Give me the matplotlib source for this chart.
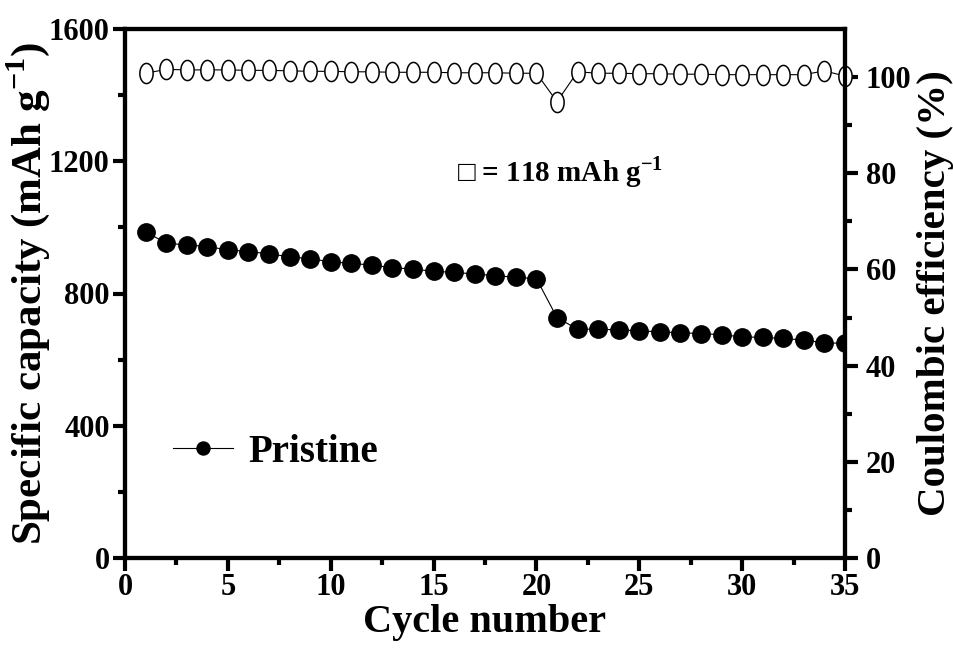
import numpy as np
import matplotlib
matplotlib.use('Agg')
import matplotlib.pyplot as plt
from matplotlib.path import Path

# data
cycles = np.arange(1, 36)
capacity = [987, 952, 947, 942, 932, 927, 920, 911, 905, 896,
            891, 886, 878, 874, 867, 864, 859, 854, 849, 845,
            727, 692, 692, 690, 687, 684, 681, 679, 675, 669,
            667, 664, 659, 651, 649]
efficiency = [100.8, 101.6, 101.5, 101.5, 101.5, 101.4, 101.4, 101.3, 101.2, 101.2,
              101.1, 101.1, 101.0, 101.0, 101.0, 100.9, 100.9, 100.9, 100.8, 100.8,
              94.9, 101.1, 100.8, 100.8, 100.7, 100.7, 100.6, 100.6, 100.5, 100.5,
              100.5, 100.5, 100.5, 101.3, 100.2]
series_label = 'Pristine'
note_text = '\u25a1 = 118 mAh g$^{\\mathbf{-1}}$'

plt.rcParams['font.family'] = ['Liberation Serif', 'DejaVu Sans']
plt.rcParams['font.weight'] = 'bold'
plt.rcParams['axes.labelweight'] = 'bold'
plt.rcParams['mathtext.fontset'] = 'custom'
plt.rcParams['mathtext.rm'] = 'Liberation Serif:bold'
plt.rcParams['mathtext.bf'] = 'Liberation Serif:bold'

# tall ellipse for the open markers (picture is a bit squeezed sideways)
t = np.linspace(0, 2*np.pi, 60)
ellipse = Path(np.column_stack([0.66*np.cos(t), np.sin(t)]))

fig = plt.figure(figsize=(9.54, 6.48), dpi=100)
fig.subplots_adjust(left=125/954, right=845/954, bottom=1-558/648, top=1-29/648)
ax = fig.add_subplot(111)
ax2 = ax.twinx()

ax.plot(cycles, capacity, '-', color='black', lw=0.8, marker='o', ms=12.5,
        mfc='black', mec='black', label=series_label)
ax2.plot(cycles, efficiency, '-', color='black', lw=0.8, marker=ellipse, ms=14.5,
         mfc='white', mec='black', mew=1.1, clip_on=False)

ax.set_xlim(0, 35)
ax.set_ylim(0, 1600)
ax2.set_ylim(0, 110)
ax.set_xticks(np.arange(0, 36, 5))
ax.set_xticks(np.arange(2.5, 35, 5), minor=True)
ax.set_yticks(np.arange(0, 1601, 400))
ax.set_yticks(np.arange(200, 1600, 400), minor=True)
ax2.set_yticks(np.arange(0, 101, 20))
ax2.set_yticks(np.arange(10, 110, 20), minor=True)

for a in (ax, ax2):
    for s in a.spines.values():
        s.set_linewidth(3)
    a.tick_params(which='major', direction='out', length=9, width=3, labelsize=22)
    a.tick_params(which='minor', direction='out', length=5, width=3)
ax.tick_params(axis='y', pad=2)
ax2.tick_params(axis='y', pad=6)
ax.tick_params(axis='x', pad=2)

ax.set_xlabel('Cycle number', fontsize=29, labelpad=1)
ax.set_ylabel('Specific capacity (mAh g$^{\\mathbf{-1}}$)', fontsize=31, labelpad=-2)
ax2.set_ylabel('Coulombic efficiency (%)', fontsize=29.5, labelpad=4)

ax.text(0.604, 0.73, note_text, transform=ax.transAxes, ha='center', va='center',
        fontsize=21)

ax.legend(loc='center left', bbox_to_anchor=(0.018, 0.2), frameon=False,
          fontsize=28, handlelength=1.55, handletextpad=0.4, markerscale=0.75)

fig.savefig('out.png', dpi=100)
